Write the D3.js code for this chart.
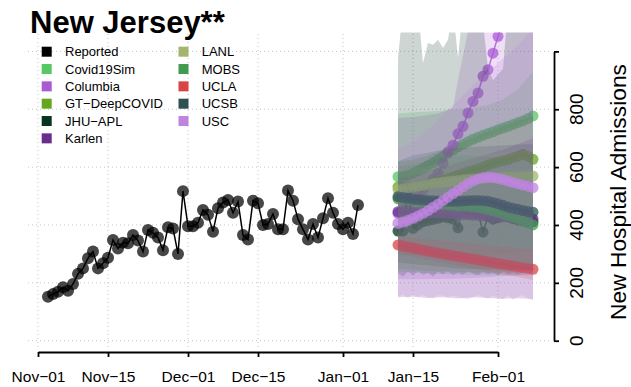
<!DOCTYPE html>
<html><head><meta charset="utf-8">
<script src="https://cdn.jsdelivr.net/npm/d3@7"></script>
<style>body{margin:0;background:#fff} svg{display:block} text{font-family:"Liberation Sans",Arial,sans-serif}</style>
</head><body><svg id="chart" width="631" height="387"></svg>
<script>
// ---------- DATA ----------
const titleText = "New Jersey**";
const yTitle = "New Hospital Admissions";
const xTickDays = [0, 14, 30, 44, 61, 75, 92];           // days after 2020-11-01
const xTickLabels = ["Nov\u221201","Nov\u221215","Dec\u221201","Dec\u221215","Jan\u221201","Jan\u221215","Feb\u221201"];
const yTickValues = [0, 200, 400, 600, 800, 1000];
const yTickLabels = ["0", "200", "400", "600", "800", ""];

const reportedStartDay = 2; // 2020-11-03
const reportedValues = [152,161,169,185,173,196,231,250,285,308,250,268,287,348,319,339,337,365,346,308,
  383,373,357,313,392,388,300,517,396,396,408,452,435,377,458,478,486,442,481,365,
  350,484,475,400,403,438,385,385,519,484,420,385,350,403,357,423,492,442,403,385,408,369,469];

const forecastDays = d3.range(72, 100); // 2021-01-12 .. 2021-02-08
const days10 = [72,75,78,81,84,87,90,93,96,99];

const modelNames = ["Covid19Sim","Columbia","GT\u2212DeepCOVID","JHU\u2212APL","Karlen","LANL","MOBS","UCLA","UCSB","USC"];
const modelColors = ["#57c764","#a95bd4","#66a61e","#06341f","#6a2d8c","#a2b56b","#429a50","#d94545","#2d5252","#bf84e0"];

const covid19SimMedian = [567,568,572,579,587,596,606,616,626,637,648,659,670,679,688,696,703,710,716,722,729,735,741,747,754,760,768,777];
const columbiaMedian   = [440,455,468,485,503,520,540,558,579,613,653,676,715,741,787,827,856,914,937,994,1052,1110,1165,1230,1290,1355,1420,1490];
const gtMedian         = [532,530,530,532,535,538,542,546,550,555,560,566,572,578,583,588,593,600,607,613,618,622,626,632,638,644,638,627];
const jhuMedian        = [379,379,521,388,400,411,415,419,423,428,425,420,390,463,452,448,445,375,429,420,425,450,430,422,417,414,412,411];
const karlenMedian     = [446,446,445,445,444,444,443,442,441,440,439,438,437,436,435,434,433,432,431,430,429,428,427,426,425,424,422,421];
const lanlMedian       = [522,525,528,531,534,537,540,543,546,548,550,552,554,556,558,559,560,561,562,563,564,565,566,566,567,568,568,569];
const mobsMedian       = [490,488,486,484,482,480,478,476,474,472,470,468,466,465,464,462,460,457,453,449,444,438,432,426,420,414,407,400];
const uclaMedian       = [331,327,324,320,317,313,310,306,303,300,297,294,291,288,285,282,279,276,273,270,267,264,261,258,255,252,250,247];
const ucsbMedian       = [498,495,492,490,488,486,485,484,483,482,482,482,482,483,484,485,485,484,482,478,473,468,462,458,454,450,447,444];
const uscMedian        = [406,410,416,423,431,440,450,461,472,484,496,508,520,532,543,552,559,563,565,564,561,557,552,547,542,538,534,529];

// prediction bands
const covid19SimLo = [300,295,292,290,290,292,295,300,305,310];
const covid19SimHi = [785,790,792,795,800,805,815,835,870,930];
const columbiaBandDays = [72,76,80,83,84,86,88,92,96,99];
const columbiaLo = [212,212,213,214,215,216,218,222,226,230];
const columbiaHi = [770,775,785,805,900,1070,1250,1600,2000,2300];
const gtLo = [250,245,240,240,238,236,235,235,236,238];
const gtHi = [620,625,640,660,680,700,720,740,760,770];
const jhuLo = [232,222,238,225,240,228,235,222,238,230,240,226,236,228,240,232,225,238,230,236,225,240,230,235,228,238,232,236];
const jhuHi = [977,1150,1150,1150,1150,960,1029,1023,1040,1012,1040,1150,977,1150,1150,1150,1150,1100,940,900,920,940,1150,1150,1150,1150,1150,1150];
const karlenLo = [150,152,148,150,146,150,148,145,147,144];
const karlenHi = [560,570,585,600,615,630,645,660,680,700];
const lanlLo = [262,258,255,252,250,248,246,245,244,243];
const lanlHi = [590,595,605,615,625,635,645,650,655,660];
const mobsLo = [240,236,233,230,230,228,228,227,226,225];
const mobsHi = [600,610,620,630,640,640,635,630,625,620];
const uclaLo = [300,290,280,270,260,250,240,230,220,210];
const uclaHi = [360,355,350,345,340,335,330,325,320,315];
const ucsbLo = [270,265,260,255,250,248,246,245,244,243];
const ucsbHi = [620,640,650,660,665,670,672,675,678,680];
const uscHiDays = [72,76,80,84,88,92,96,99];
const uscHi = [660,700,760,830,900,960,1020,1080];
const uscLo = [152,160,146,161,150,158,150,146,158,155,150,156,152,148,143,150,158,152,145,156,148,143,158,141,152,158,144,141];

const models = [
  {median: covid19SimMedian, band: {hiDays: days10, hi: covid19SimHi, loDays: days10, lo: covid19SimLo}},
  {median: columbiaMedian,   band: {hiDays: columbiaBandDays, hi: columbiaHi, loDays: columbiaBandDays, lo: columbiaLo}},
  {median: gtMedian,         band: {hiDays: days10, hi: gtHi, loDays: days10, lo: gtLo}},
  {median: jhuMedian,        band: {hiDays: forecastDays, hi: jhuHi, loDays: forecastDays, lo: jhuLo}},
  {median: karlenMedian,     band: {hiDays: days10, hi: karlenHi, loDays: days10, lo: karlenLo}},
  {median: lanlMedian,       band: {hiDays: days10, hi: lanlHi, loDays: days10, lo: lanlLo}},
  {median: mobsMedian,       band: {hiDays: days10, hi: mobsHi, loDays: days10, lo: mobsLo}},
  {median: uclaMedian,       band: {hiDays: days10, hi: uclaHi, loDays: days10, lo: uclaLo}},
  {median: ucsbMedian,       band: {hiDays: days10, hi: ucsbHi, loDays: days10, lo: ucsbLo}},
  {median: uscMedian,        band: {hiDays: uscHiDays, hi: uscHi, loDays: forecastDays, lo: uscLo}}
];

// ---------- DRAW ----------
const svg = d3.select("#chart");
const day0 = Date.UTC(2020, 10, 1);
const dayDate = d => new Date(day0 + d * 864e5);

const x = d3.scaleUtc().domain([dayDate(0), dayDate(92)]).range([38, 498]);
const y = d3.scaleLinear().domain([0, 1000]).range([340.7, 51.4]);

svg.append("defs").append("clipPath").attr("id", "clip")
  .append("rect").attr("x", 20).attr("y", 32.5).attr("width", 530).attr("height", 320);

// grid
const grid = svg.append("g").attr("stroke", "#c4c4c4").attr("stroke-width", 1).attr("stroke-dasharray", "1,3");
yTickValues.forEach(v => grid.append("line").attr("x1", 28).attr("x2", 552).attr("y1", y(v)).attr("y2", y(v)));
xTickDays.forEach(d => grid.append("line").attr("x1", x(dayDate(d))).attr("x2", x(dayDate(d))).attr("y1", 34).attr("y2", 347));

const plot = svg.append("g").attr("clip-path", "url(#clip)");

// reported
const reported = reportedValues.map((v, i) => ({date: dayDate(reportedStartDay + i), v}));
plot.append("path").datum(reported)
  .attr("fill", "none").attr("stroke", "#000").attr("stroke-width", 1.5)
  .attr("d", d3.line().x(d => x(d.date)).y(d => y(d.v)));
plot.append("g").selectAll("circle").data(reported).join("circle")
  .attr("cx", d => x(d.date)).attr("cy", d => y(d.v)).attr("r", 6)
  .attr("fill", "#000").attr("fill-opacity", 0.72);

// forecasts
const lineGen = d3.line().x(d => x(d.date)).y(d => y(d.v));
models.forEach((m, k) => {
  const col = modelColors[k];
  const b = m.band;
  const upper = b.hiDays.map((d, i) => [x(dayDate(d)), y(b.hi[i])]);
  const lower = b.loDays.map((d, i) => [x(dayDate(d)), y(b.lo[i])]).reverse();
  plot.append("path").attr("d", d3.line()(upper.concat(lower)) + "Z")
    .attr("fill", col).attr("fill-opacity", 0.2).attr("stroke", "none");
  const pts = m.median.map((v, i) => ({date: dayDate(forecastDays[i]), v}));
  plot.append("path").datum(pts).attr("fill", "none").attr("stroke", col)
    .attr("stroke-width", 1.5).attr("stroke-opacity", 0.85).attr("d", lineGen);
  plot.append("g").selectAll("circle").data(pts).join("circle")
    .attr("cx", d => x(d.date)).attr("cy", d => y(d.v)).attr("r", 5.5)
    .attr("fill", col).attr("fill-opacity", 0.75);
});

// x axis
const xAxis = svg.append("g").attr("transform", "translate(0,352)")
  .call(d3.axisBottom(x).tickValues(xTickDays.map(dayDate)).tickFormat((d, i) => xTickLabels[i])
    .tickSize(5).tickSizeOuter(0));
xAxis.select(".domain").attr("stroke", "#000").attr("stroke-width", 1.8);
xAxis.selectAll(".tick line").attr("stroke", "#000").attr("stroke-width", 1.8);
xAxis.selectAll(".tick text").attr("font-size", 15.5).attr("fill", "#000")
  .attr("font-family", "Liberation Sans, Arial, sans-serif").attr("dy", null).attr("y", 30);

// y axis
const yAxis = svg.append("g").attr("transform", "translate(554,0)")
  .call(d3.axisRight(y).tickValues(yTickValues).tickFormat("").tickSize(5).tickSizeOuter(0));
yAxis.select(".domain").attr("stroke", "#000").attr("stroke-width", 1.8);
yAxis.selectAll(".tick line").attr("stroke", "#000").attr("stroke-width", 1.8);
yTickValues.forEach((v, i) => {
  svg.append("text").attr("transform", `translate(582.5,${y(v)}) rotate(-90)`)
    .attr("text-anchor", "middle").attr("font-size", 19).attr("fill", "#000").text(yTickLabels[i]);
});
svg.append("text").attr("transform", "translate(626,192) rotate(-90)")
  .attr("text-anchor", "middle").attr("font-size", 22.8).attr("fill", "#000").text(yTitle);

// title
svg.append("text").attr("x", 30).attr("y", 33).attr("font-size", 31).attr("font-weight", "bold")
  .attr("fill", "#000").text(titleText);

// legend
const legendNames = ["Reported"].concat(modelNames);
const legendColors = ["#000000"].concat(modelColors);
legendNames.forEach((n, i) => {
  const col = i < 6 ? 0 : 1, row = i < 6 ? i : i - 6;
  const sx = col === 0 ? 41.7 : 178.5, tx = col === 0 ? 65 : 201.7;
  const cy = 51.7 + row * 17.33;
  svg.append("rect").attr("x", sx).attr("y", cy - 5).attr("width", 10).attr("height", 10).attr("fill", legendColors[i]);
  svg.append("text").attr("x", tx).attr("y", cy + 4.6).attr("font-size", 13).attr("fill", "#000").text(n);
});
</script></body></html>
